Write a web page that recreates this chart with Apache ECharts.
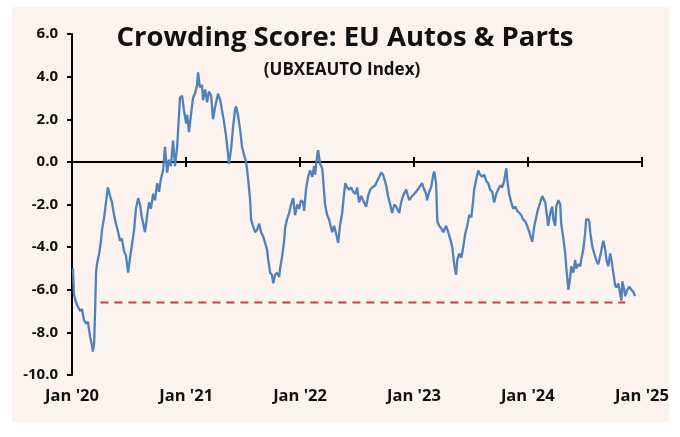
<!DOCTYPE html>
<html>
<head>
<meta charset="utf-8">
<script src="https://cdn.jsdelivr.net/npm/echarts@6/dist/echarts.min.js"></script>
<style>
html,body{margin:0;padding:0;background:#ffffff;}
#chart{width:680px;height:437px;}
</style>
</head>
<body>
<div id="chart"></div>
<script>
// ---- Data ----
const titleText = 'Crowding Score: EU Autos & Parts';
const subtitleText = '(UBXEAUTO Index)';
const yTicks = [-10, -8, -6, -4, -2, 0, 2, 4, 6];
const xStart = '2020-01-01';
const xEnd = '2025-01-01';

const dates = [
'2020-01-04','2020-01-07','2020-01-14','2020-01-20','2020-01-27','2020-02-02','2020-02-08','2020-02-15','2020-02-21','2020-02-28',
'2020-03-05','2020-03-08','2020-03-12','2020-03-15','2020-03-18','2020-03-21','2020-03-28','2020-04-03','2020-04-06','2020-04-13',
'2020-04-19','2020-04-25','2020-05-02','2020-05-08','2020-05-15','2020-05-21','2020-05-28','2020-06-03','2020-06-09','2020-06-16',
'2020-06-22','2020-06-29','2020-07-05','2020-07-11','2020-07-18','2020-07-24','2020-07-31','2020-08-06','2020-08-12','2020-08-22',
'2020-08-29','2020-09-04','2020-09-10','2020-09-17','2020-09-23','2020-09-30','2020-10-06','2020-10-12','2020-10-19','2020-10-25',
'2020-11-01','2020-11-07','2020-11-13','2020-11-20','2020-11-26','2020-12-03','2020-12-09','2020-12-12','2020-12-19','2020-12-25',
'2021-01-01','2021-01-04','2021-01-10','2021-01-17','2021-01-23','2021-01-29','2021-02-05','2021-02-08','2021-02-14','2021-02-21',
'2021-02-24','2021-03-03','2021-03-09','2021-03-15','2021-03-22','2021-03-28','2021-04-04','2021-04-13','2021-04-20','2021-04-26',
'2021-05-02','2021-05-09','2021-05-15','2021-05-18','2021-05-25','2021-05-31','2021-06-07','2021-06-10','2021-06-16','2021-06-23',
'2021-06-29','2021-07-06','2021-07-12','2021-07-18','2021-07-25','2021-07-28','2021-08-03','2021-08-10','2021-08-16','2021-08-23',
'2021-08-29','2021-09-05','2021-09-11','2021-09-17','2021-09-21','2021-09-27','2021-10-03','2021-10-07','2021-10-13','2021-10-19',
'2021-10-26','2021-10-29','2021-11-04','2021-11-11','2021-11-14','2021-11-20','2021-11-27','2021-12-03','2021-12-10','2021-12-16',
'2021-12-23','2021-12-29','2022-01-04','2022-01-11','2022-01-14','2022-01-20','2022-01-27','2022-02-02','2022-02-09','2022-02-15',
'2022-02-18','2022-02-25','2022-02-28','2022-03-06','2022-03-13','2022-03-19','2022-03-22','2022-03-29','2022-04-04','2022-04-14',
'2022-04-20','2022-04-27','2022-05-03','2022-05-09','2022-05-16','2022-05-22','2022-05-26','2022-06-01','2022-06-07','2022-06-14',
'2022-06-20','2022-06-27','2022-07-03','2022-07-09','2022-07-16','2022-07-22','2022-08-01','2022-08-07','2022-08-14','2022-08-20',
'2022-08-30','2022-09-05','2022-09-12','2022-09-18','2022-09-24','2022-09-28','2022-10-04','2022-10-10','2022-10-17','2022-10-23',
'2022-10-30','2022-11-05','2022-11-15','2022-11-21','2022-11-27','2022-12-07','2022-12-17','2022-12-26','2023-01-02','2023-01-08',
'2023-01-18','2023-01-27','2023-02-03','2023-02-09','2023-02-12','2023-02-19','2023-02-25','2023-03-04','2023-03-07','2023-03-13',
'2023-03-17','2023-03-23','2023-03-29','2023-04-05','2023-04-14','2023-04-21','2023-04-27','2023-05-04','2023-05-10','2023-05-16',
'2023-05-20','2023-05-26','2023-06-02','2023-06-08','2023-06-14','2023-06-21','2023-06-27','2023-07-04','2023-07-10','2023-07-13',
'2023-07-20','2023-07-26','2023-08-01','2023-08-08','2023-08-14','2023-08-21','2023-08-27','2023-09-02','2023-09-09','2023-09-15',
'2023-09-22','2023-09-28','2023-10-05','2023-10-11','2023-10-17','2023-10-24','2023-10-27','2023-11-02','2023-11-09','2023-11-15',
'2023-11-22','2023-11-28','2023-12-05','2023-12-11','2023-12-17','2023-12-24','2023-12-30','2024-01-06','2024-01-12','2024-01-15',
'2024-01-22','2024-01-28','2024-02-03','2024-02-10','2024-02-16','2024-02-19','2024-02-26','2024-03-03','2024-03-06','2024-03-13',
'2024-03-19','2024-03-23','2024-03-29','2024-04-01','2024-04-08','2024-04-14','2024-04-17','2024-04-24','2024-04-30','2024-05-03',
'2024-05-10','2024-05-16','2024-05-19','2024-05-26','2024-06-01','2024-06-04','2024-06-11','2024-06-17','2024-06-20','2024-06-27',
'2024-07-03','2024-07-06','2024-07-13','2024-07-16','2024-07-19','2024-07-26','2024-08-01','2024-08-07','2024-08-14','2024-08-20',
'2024-08-23','2024-08-30','2024-09-05','2024-09-09','2024-09-15','2024-09-21','2024-09-25','2024-10-01','2024-10-07','2024-10-11',
'2024-10-17','2024-10-23','2024-10-27','2024-10-30','2024-11-05','2024-11-08','2024-11-15','2024-11-21','2024-11-28','2024-12-04',
'2024-12-10'
];

const scores = [
-5.0,-6.2,-6.6,-6.8,-7.0,-6.9,-7.4,-7.6,-7.5,-8.2,
-8.6,-8.9,-8.5,-7.0,-5.2,-4.8,-4.3,-3.7,-3.2,-2.6,
-1.9,-1.2,-1.6,-1.9,-2.5,-2.9,-3.3,-3.7,-3.6,-4.2,
-4.4,-5.2,-4.5,-3.9,-3.2,-2.2,-1.7,-2.0,-2.6,-3.3,
-2.5,-1.9,-2.2,-1.5,-1.8,-1.0,-1.4,-0.8,-0.4,0.7,
-0.5,0.1,-0.2,1.0,-0.2,0.7,2.2,3.0,3.1,2.4,
1.8,2.2,1.4,2.3,3.0,3.2,3.6,4.2,3.5,3.6,
2.9,3.4,2.8,3.3,3.1,2.0,2.6,3.2,2.9,2.4,
1.9,1.2,0.4,-0.1,0.6,1.6,2.5,2.6,2.2,1.5,
0.7,0.3,0.0,-0.7,-1.8,-2.7,-3.0,-3.3,-3.2,-2.9,
-3.3,-3.5,-3.8,-4.1,-4.6,-5.2,-5.3,-5.7,-5.3,-5.2,
-5.4,-5.0,-4.5,-3.7,-3.1,-2.7,-2.4,-2.0,-1.7,-2.5,
-2.0,-2.2,-1.8,-1.9,-2.3,-1.3,-0.7,-0.4,-0.7,-0.2,
-0.6,0.3,0.55,-0.1,-0.3,-1.4,-2.0,-2.5,-2.7,-3.3,
-3.0,-3.4,-3.8,-3.0,-2.4,-1.5,-1.0,-1.2,-1.3,-1.2,
-1.4,-1.5,-1.2,-1.9,-1.6,-1.8,-2.1,-1.6,-1.3,-1.2,
-1.1,-0.9,-0.7,-0.5,-0.6,-0.6,-1.1,-1.6,-2.0,-2.4,
-2.0,-2.1,-2.4,-1.9,-1.6,-1.3,-1.8,-1.6,-1.5,-1.4,
-1.2,-1.0,-1.3,-1.5,-1.8,-1.4,-1.2,-0.6,-0.45,-1.0,
-2.8,-3.0,-3.1,-3.3,-3.0,-3.3,-3.6,-4.0,-4.8,-5.3,
-4.6,-4.3,-4.5,-4.0,-3.4,-3.0,-2.5,-2.6,-1.8,-1.3,
-0.8,-0.4,-0.6,-0.7,-0.6,-0.9,-1.0,-1.3,-1.4,-1.9,
-1.5,-1.3,-1.1,-1.2,-0.9,-0.3,-0.8,-1.5,-1.9,-2.2,
-2.1,-2.3,-2.4,-2.5,-2.7,-2.8,-3.0,-3.3,-3.6,-3.75,
-3.0,-2.6,-2.2,-1.9,-1.6,-1.6,-1.9,-2.6,-3.0,-2.4,
-2.1,-2.7,-3.0,-2.1,-1.8,-2.0,-2.9,-3.6,-4.3,-4.9,
-6.0,-5.4,-4.9,-5.2,-4.6,-5.0,-4.8,-4.9,-4.6,-4.1,
-3.3,-2.7,-2.7,-2.8,-3.3,-4.0,-4.3,-4.6,-4.8,-4.4,
-4.2,-3.7,-4.1,-4.6,-4.9,-4.3,-4.6,-5.2,-5.8,-5.9,
-5.7,-6.2,-6.5,-5.6,-6.0,-6.3,-6.0,-5.85,-6.0,-6.1,
-6.3
];

const floorDates = ['2020-04-01', '2024-11-08'];
const floorValues = [-6.6, -6.6];

// ---- Chart ----
const FONT = '"Open Sans", "Noto Sans", sans-serif';
const chart = echarts.init(document.getElementById('chart'), null, {renderer: 'canvas'});

const lineData = dates.map((d, i) => [d, scores[i]]);
const floorData = floorDates.map((d, i) => [d, floorValues[i]]);

function yearLabel(v) {
  const d = new Date(v);
  let y = d.getFullYear();
  if (d.getMonth() === 11) y += 1;
  return "Jan '" + String(y).slice(2);
}

const baseX = {
  type: 'time',
  min: xStart,
  max: xEnd,
  splitNumber: 5,
  minInterval: 300 * 24 * 3600 * 1000,
  splitLine: {show: false},
  gridIndex: 0
};

const option = {
  backgroundColor: '#ffffff',
  animation: false,
  graphic: [{
    type: 'rect',
    z: -100,
    silent: true,
    shape: {x: 12, y: 7, width: 657, height: 415},
    style: {fill: '#FCF2EE'}
  }],
  title: [{
    text: titleText,
    left: 340,
    textAlign: 'center',
    top: 19,
    textStyle: {fontFamily: FONT, fontWeight: 'bold', fontSize: 27.5, color: '#111111'}
  }, {
    text: subtitleText,
    left: 337,
    textAlign: 'center',
    top: 57,
    textStyle: {fontFamily: FONT, fontWeight: 'bold', fontSize: 17, color: '#111111'}
  }],
  grid: {left: 72, right: 38, top: 34, bottom: 62, containLabel: false, outerBoundsMode: 'none'},
  xAxis: [
    Object.assign({}, baseX, {
      position: 'bottom',
      axisLine: {show: false, onZero: false},
      axisTick: {show: false},
      axisLabel: {
        show: true, margin: 13, formatter: yearLabel,
        fontFamily: FONT, fontWeight: 'bold', fontSize: 16.5, color: '#111111',
        showMinLabel: true, showMaxLabel: true, hideOverlap: false
      }
    }),
    Object.assign({}, baseX, {
      position: 'bottom',
      axisLine: {show: true, onZero: true, onZeroAxisIndex: 0, lineStyle: {color: '#000000', width: 2}},
      axisTick: {show: true, inside: false, length: 5, lineStyle: {color: '#000000', width: 2}},
      axisLabel: {show: false}
    }),
    Object.assign({}, baseX, {
      position: 'bottom',
      axisLine: {show: false, onZero: true, onZeroAxisIndex: 0},
      axisTick: {show: true, inside: true, length: 5, lineStyle: {color: '#000000', width: 2}},
      axisLabel: {show: false}
    })
  ],
  yAxis: {
    type: 'value',
    min: -10,
    max: 6,
    interval: 2,
    axisLine: {show: true, onZero: false, lineStyle: {color: '#000000', width: 2}},
    axisTick: {show: true, length: 5, lineStyle: {color: '#000000', width: 2}},
    splitLine: {show: false},
    axisLabel: {
      margin: 14,
      formatter: v => v.toFixed(1),
      fontFamily: FONT, fontWeight: 'bold', fontSize: 15, color: '#111111'
    }
  },
  series: [{
    type: 'line',
    xAxisIndex: 0,
    data: lineData,
    showSymbol: false,
    smooth: false,
    lineStyle: {color: '#4F81BD', width: 2.3},
    itemStyle: {color: '#4F81BD'},
    z: 3
  }, {
    type: 'line',
    xAxisIndex: 0,
    data: floorData,
    showSymbol: false,
    lineStyle: {color: '#E0333C', width: 2, type: [8, 6]},
    itemStyle: {color: '#E0333C'},
    z: 2
  }]
};
chart.setOption(option);
</script>
</body>
</html>
